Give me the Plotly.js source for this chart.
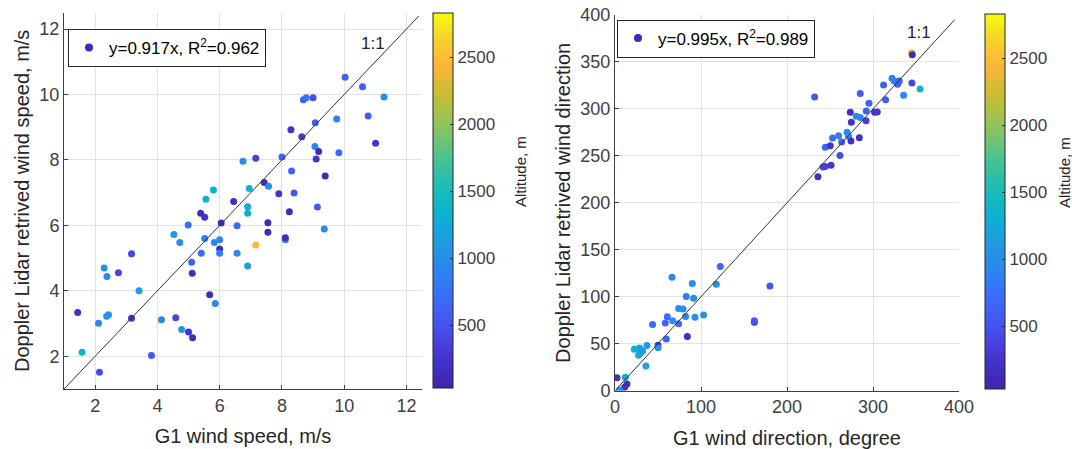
<!DOCTYPE html>
<html><head><meta charset="utf-8">
<script src="https://cdn.plot.ly/plotly-3.0.1.min.js"></script>
<style>body{margin:0;background:#fff}#chart{width:1072px;height:449px}</style>
</head><body><div id="chart"></div>
<script>
// ---- Wind speed (left panel) ----
const speedG1 = [6.75,7.16,5.80,6.95,5.56,6.45,10.03,10.59,11.28,8.69,8.78,9.00,9.76,10.77,8.29,9.07,8.64,11.01,9.06,9.18,9.83,9.10,8.00,8.31,9.39,7.43,7.57,7.90,8.39,6.90,6.90,5.39,5.52,4.99,6.05,6.56,4.53,4.72,5.52,5.83,6.00,6.00,6.00,5.41,6.56,7.16,6.90,3.17,5.10,5.12,2.29,2.38,2.75,3.41,5.68,5.86,1.44,2.43,2.37,2.11,3.17,4.13,4.59,4.78,5.00,5.13,1.58,3.81,2.14,8.24,9.14,7.55,7.55,8.11,8.11,9.36];
const speedLidar = [7.96,8.05,7.08,7.13,6.80,6.73,10.53,10.24,9.92,9.84,9.90,9.90,9.25,9.34,8.92,9.14,8.71,8.51,8.41,8.26,8.22,8.03,8.09,7.66,7.51,7.31,7.20,6.97,6.99,6.57,6.37,6.37,6.25,6.01,6.07,5.99,5.72,5.48,5.60,5.48,5.56,5.28,5.15,5.15,5.15,5.40,4.76,5.13,4.87,4.54,4.70,4.44,4.55,4.00,3.88,3.61,3.34,3.27,3.22,3.01,3.16,3.12,3.18,2.82,2.74,2.57,2.12,2.02,1.51,6.42,6.56,6.08,5.79,5.56,5.62,5.89];
const speedAlt = [1000,350,1350,1300,1350,200,600,600,1000,600,750,450,900,600,250,600,300,250,950,150,700,250,650,650,150,150,950,250,550,1250,1250,150,200,700,150,700,1100,1000,900,950,950,150,850,700,950,2450,1150,400,650,150,1050,950,400,1100,150,950,200,1050,1000,950,200,950,400,1050,250,150,1350,550,450,150,550,150,150,950,150,1000];
// ---- Wind direction (right panel) ----
const dirG1 = [344.9,345.7,345.3,354.7,322.1,324.8,330.6,328.6,312.3,335.6,314.7,285.2,232.1,295.3,292.2,301.9,305.0,273.6,280.6,285.2,274.8,291.9,269.8,253.0,260.0,271.6,263.5,274.4,284.1,244.5,250.3,261.6,241.9,244.5,251.2,236.0,122.4,66.3,89.9,117.8,180.2,82.9,91.4,74.0,79.1,60.8,67.0,82.1,93.0,103.0,58.5,74.0,43.7,162.0,162.0,84.1,59.7,50.0,50.0,37.2,28.6,22.4,29.4,27.4,32.1,36.0,2.3,12.0,13.9,11.2,5.3];
const dirLidar = [359.7,357.6,327.7,321.3,332.6,329.8,329.8,326.2,325.6,314.5,309.9,316.3,312.8,306.0,297.9,296.4,296.8,296.4,292.1,291.0,285.7,287.5,275.1,269.1,271.5,270.8,264.8,265.9,269.4,259.1,260.9,250.5,238.2,238.8,239.9,227.8,132.2,120.9,114.1,113.4,111.6,100.2,98.5,87.4,87.1,78.6,74.6,78.9,78.3,80.7,72.2,71.4,70.4,72.9,74.6,57.6,55.1,48.4,45.8,48.0,45.5,44.1,39.9,37.7,42.3,26.3,13.9,14.3,7.1,3.6,0.7];
const dirAlt = [2450,150,400,1400,950,900,650,600,600,950,600,550,550,600,600,200,250,200,950,900,250,350,950,700,900,950,600,200,200,650,250,450,450,350,250,200,650,950,1000,1000,500,850,1000,950,1000,700,1000,900,1000,1050,650,700,700,200,550,150,650,250,1000,1100,1150,1300,1250,1250,1100,1150,200,1300,200,150,1000];
// ---- reference lines, ticks, labels ----
const speedOneToOne = [1, 12.4];
const dirOneToOne = [0, 395];
const speedTicks = [2,4,6,8,10,12];
const dirXTicks = [0,100,200,300,400];
const dirYTicks = [0,50,100,150,200,250,300,350,400];
const altTicks = [500,1000,1500,2000,2500];
const speedLegend = 'y=0.917x, R<sup>2</sup>=0.962';
const dirLegend = 'y=0.995x, R<sup>2</sup>=0.989';
const altTitle = 'Altitude, m';

const W = 1072, H = 449;
const fx = p => p / W, fy = p => 1 - p / H;
const FONT = 'Liberation Sans, Arial, sans-serif';
const TXT = '#262626', TICK = '#404040';

const parula = [
  [0.00,'#3E26A8'],[0.08,'#4433CE'],[0.16,'#4750EE'],[0.24,'#3A6CFA'],
  [0.32,'#2D86EE'],[0.40,'#1F9EDE'],[0.47,'#0DB2D0'],[0.54,'#1EBDB2'],
  [0.62,'#4EC38D'],[0.70,'#8EC55C'],[0.78,'#C7BC33'],[0.86,'#FCB53A'],
  [0.93,'#F4D32A'],[1.00,'#F9FB0E']
];

function axisBase(extra) {
  return Object.assign({
    ticks: 'inside', ticklen: 4, tickcolor: TICK, showline: true, linecolor: TICK, linewidth: 1,
    showgrid: true, gridcolor: '#E3E3E3', gridwidth: 1, zeroline: false, mirror: false,
    tickfont: {family: FONT, size: 18, color: TICK}, fixedrange: true, tickmode: 'array'
  }, extra);
}
function cbar(xp, ytop, ybot) {
  return {
    x: fx(xp), xanchor: 'left', xref: 'paper', xpad: 0, ypad: 0,
    y: fy(ybot), yanchor: 'bottom', yref: 'paper',
    len: (ybot - ytop) / H, lenmode: 'fraction', thickness: 20, thicknessmode: 'pixels',
    outlinecolor: TXT, outlinewidth: 1, ticks: 'inside', ticklen: 3, tickcolor: TXT,
    tickmode: 'array', tickvals: altTicks, tickfont: {family: FONT, size: 17, color: TICK}
  };
}

const traces = [
  {type: 'scatter', mode: 'markers', x: speedG1, y: speedLidar, xaxis: 'x', yaxis: 'y', showlegend: false,
   marker: {size: 7, color: speedAlt, coloraxis: 'coloraxis'}, hoverinfo: 'skip'},
  {type: 'scatter', mode: 'lines', x: speedOneToOne, y: speedOneToOne, xaxis: 'x', yaxis: 'y', showlegend: false,
   line: {color: '#333333', width: 1}},
  {type: 'scatter', mode: 'markers', x: [null], y: [null], xaxis: 'x', yaxis: 'y', name: speedLegend,
   legend: 'legend', showlegend: true, marker: {size: 8, color: '#3B2BBE'}},
  {type: 'scatter', mode: 'markers', x: dirG1, y: dirLidar, xaxis: 'x2', yaxis: 'y2', showlegend: false,
   marker: {size: 7, color: dirAlt, coloraxis: 'coloraxis2'}, hoverinfo: 'skip'},
  {type: 'scatter', mode: 'lines', x: dirOneToOne, y: dirOneToOne, xaxis: 'x2', yaxis: 'y2', showlegend: false,
   line: {color: '#333333', width: 1}},
  {type: 'scatter', mode: 'markers', x: [null], y: [null], xaxis: 'x2', yaxis: 'y2', name: dirLegend,
   legend: 'legend2', showlegend: true, marker: {size: 8, color: '#3B2BBE'}}
];

const legendBase = {xanchor: 'left', yanchor: 'top', xref: 'paper', yref: 'paper', bgcolor: '#FFFFFF',
  bordercolor: TXT, borderwidth: 1, font: {family: FONT, size: 17, color: '#000000'}};

const layout = {
  width: W, height: H, margin: {l: 0, r: 0, t: 0, b: 0}, paper_bgcolor: '#FFFFFF', plot_bgcolor: '#FFFFFF',
  font: {family: FONT, color: TXT},
  xaxis: axisBase({domain: [fx(64), fx(422)], range: [1, 12.5], tickvals: speedTicks, anchor: 'y',
    title: {text: 'G1 wind speed, m/s', font: {family: FONT, size: 20, color: TXT}, standoff: 14}}),
  yaxis: axisBase({domain: [fy(389), fy(12.7)], range: [1, 12.5], tickvals: speedTicks, anchor: 'x',
    title: {text: 'Doppler Lidar retrived wind speed, m/s', font: {family: FONT, size: 20, color: TXT}, standoff: 4}}),
  xaxis2: axisBase({domain: [fx(615), fx(959)], range: [0, 400], tickvals: dirXTicks, anchor: 'y2',
    title: {text: 'G1 wind direction, degree', font: {family: FONT, size: 20, color: TXT}, standoff: 14}}),
  yaxis2: axisBase({domain: [fy(390.7), fy(15)], range: [0, 400], tickvals: dirYTicks, anchor: 'x2',
    title: {text: 'Doppler Lidar retrived wind direction', font: {family: FONT, size: 20, color: TXT}, standoff: 4}}),
  coloraxis: {colorscale: parula, cmin: 30, cmax: 2830, colorbar: cbar(433, 12.7, 388)},
  coloraxis2: {colorscale: parula, cmin: 30, cmax: 2830, colorbar: cbar(985, 14, 389)},
  legend: Object.assign({x: fx(68), y: fy(29)}, legendBase),
  legend2: Object.assign({x: fx(617), y: fy(19.5)}, legendBase),
  annotations: [
    {x: 10.92, y: 11.55, xref: 'x', yref: 'y', text: '1:1', showarrow: false, font: {family: FONT, size: 17, color: TXT}},
    {x: 353.8, y: 381, xref: 'x2', yref: 'y2', text: '1:1', showarrow: false, font: {family: FONT, size: 17, color: TXT}},
    {x: fx(520), y: fy(172), xref: 'paper', yref: 'paper', text: altTitle, textangle: -90, showarrow: false,
     xanchor: 'center', yanchor: 'middle', font: {family: FONT, size: 15, color: TXT}},
    {x: fx(1064), y: fy(173), xref: 'paper', yref: 'paper', text: altTitle, textangle: -90, showarrow: false,
     xanchor: 'center', yanchor: 'middle', font: {family: FONT, size: 15, color: TXT}}
  ]
};

Plotly.newPlot('chart', traces, layout, {displayModeBar: false, staticPlot: true});
</script>
</body></html>
